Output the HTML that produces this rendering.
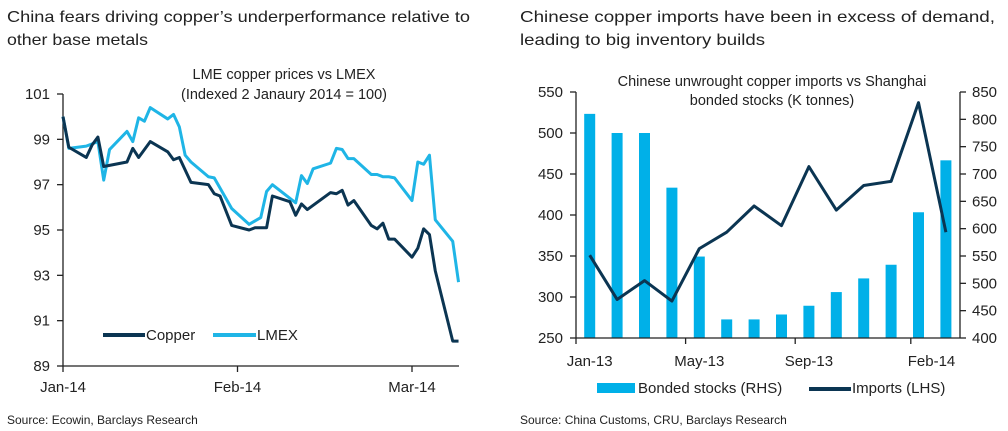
<!DOCTYPE html>
<html><head><meta charset="utf-8"><style>
html,body{margin:0;padding:0;background:#fff;}
svg{display:block;font-family:"Liberation Sans",sans-serif;}
</style></head><body>
<svg id="svg" width="1008" height="431" viewBox="0 0 1008 431" xmlns="http://www.w3.org/2000/svg">
<g fill="#222" font-size="16">
<text x="7" y="22" textLength="463" lengthAdjust="spacingAndGlyphs">China fears driving copper’s underperformance relative to</text>
<text x="7" y="45" textLength="141" lengthAdjust="spacingAndGlyphs">other base metals</text>
<text x="520" y="22" textLength="475" lengthAdjust="spacingAndGlyphs">Chinese copper imports have been in excess of demand,</text>
<text x="520" y="45" textLength="245" lengthAdjust="spacingAndGlyphs">leading to big inventory builds</text>
</g>
<g fill="#222" font-size="12">
<text x="7" y="424">Source: Ecowin, Barclays Research</text>
<text x="520" y="424">Source: China Customs, CRU, Barclays Research</text>
</g>
<g id="left"></g>
<g id="right"></g>
</svg>
<script>
// Left chart data
const copperDays=[0,1,4,5,6,7,11,12,13,15,18,19,20,22,25,26,27,29,32,33,35,36,39,40,41,42,46,47,48,49,50,53,54,55,56,57,60,61,62,63,64,67,68];
const copperVals=[100,98.65,98.2,98.75,99.1,97.8,98.0,98.6,98.2,98.9,98.45,98.1,98.2,97.1,97.0,96.6,96.5,95.2,95.0,95.1,95.1,96.5,96.25,95.65,96.15,95.9,96.65,96.6,96.75,96.1,96.3,95.2,95.05,95.3,94.6,94.6,93.8,94.2,95.05,94.8,93.2,90.1,90.1];
const lmexDays=[0,1,4,6,7,8,11,12,13,14,15,18,19,20,21,22,25,26,29,32,34,35,36,40,41,42,43,46,47,48,49,50,53,54,55,56,57,60,61,62,63,64,67,68];
const lmexVals=[100,98.6,98.7,98.9,97.2,98.55,99.35,98.9,99.95,99.8,100.4,99.9,100.1,99.55,98.3,98.0,97.35,97.3,95.95,95.25,95.55,96.7,97.0,96.2,97.4,97.05,97.7,97.95,98.6,98.55,98.15,98.15,97.45,97.45,97.35,97.35,97.3,96.3,98.0,97.9,98.3,95.45,94.5,92.7];
const leftYTicks=[89,91,93,95,97,99,101];
const leftXTickDays=[0,30,60];
const leftXTickLabels=["Jan-14","Feb-14","Mar-14"];
// Right chart data
const months=["Jan-13","Feb-13","Mar-13","Apr-13","May-13","Jun-13","Jul-13","Aug-13","Sep-13","Oct-13","Nov-13","Dec-13","Jan-14","Feb-14"];
const bondedStocks=[810,775,775,675,549,434,434,443,459,484,509,534,630,725];
const imports=[351,297,320,295,359,379,411,387,459,406,436,441,537,379];
const leftAxisTicks=[250,300,350,400,450,500,550];
const rightAxisTicks=[400,450,500,550,600,650,700,750,800,850];
const rightXTickIdx=[0,4,8,12];
const rightXTickLabels=["Jan-13","May-13","Sep-13","Feb-14"];

const NS="http://www.w3.org/2000/svg";
function mk(parent,tag,attrs){const e=document.createElementNS(NS,tag);for(const k in attrs)e.setAttribute(k,attrs[k]);parent.appendChild(e);return e;}
const DARK="#0b3552", LIGHT="#1fb5e6", AX="#222";
const FS=15;

// ---- Left chart
const L=document.getElementById('left');
const lx=d=>63+d*(174.5/30), ly=v=>366-(v-89)*(272/12);
let t=mk(L,'text',{x:284,y:79,'text-anchor':'middle','font-size':14.5,fill:'#222'});t.textContent="LME copper prices vs LMEX";

t=mk(L,'text',{x:284,y:99,'text-anchor':'middle','font-size':14.5,fill:'#222'});t.textContent="(Indexed 2 Janaury 2014 = 100)";

let a=mk(L,'line',{x1:63,y1:94,x2:63,y2:366,stroke:AX,'stroke-width':1.3});

a=mk(L,'line',{x1:63,y1:366,x2:459,y2:366,stroke:AX,'stroke-width':1.3});

leftYTicks.forEach(v=>{
  const tk=mk(L,'line',{x1:57,y1:ly(v),x2:63,y2:ly(v),stroke:AX,'stroke-width':1.3});
  
  const tl=mk(L,'text',{x:50,y:ly(v)+5,'text-anchor':'end','font-size':FS,fill:'#222'});tl.textContent=v;
  
});
leftXTickDays.forEach((d,i)=>{
  const tk=mk(L,'line',{x1:lx(d),y1:366,x2:lx(d),y2:372,stroke:AX,'stroke-width':1.3});
  
  const tl=mk(L,'text',{x:lx(d),y:392,'text-anchor':'middle','font-size':FS,fill:'#222'});tl.textContent=leftXTickLabels[i];
  
});
let p=mk(L,'polyline',{points:lmexDays.map((d,i)=>lx(d)+','+ly(lmexVals[i])).join(' '),fill:'none',stroke:LIGHT,'stroke-width':3,'stroke-linejoin':'round'});

p=mk(L,'polyline',{points:copperDays.map((d,i)=>lx(d)+','+ly(copperVals[i])).join(' '),fill:'none',stroke:DARK,'stroke-width':3,'stroke-linejoin':'round'});

let lg=mk(L,'line',{x1:103,y1:335,x2:145,y2:335,stroke:DARK,'stroke-width':4});

t=mk(L,'text',{x:146,y:340,'font-size':FS,fill:'#222'});t.textContent="Copper";

lg=mk(L,'line',{x1:213,y1:335,x2:256,y2:335,stroke:LIGHT,'stroke-width':4});

t=mk(L,'text',{x:257,y:340,'font-size':FS,fill:'#222'});t.textContent="LMEX";


// ---- Right chart
const R=document.getElementById('right');
const X0=576,X1=960,step=27.4;
const rx=i=>X0+step/2+i*step;
const yl=v=>338-(v-250)*(246/300), yr=v=>338-(v-400)*(246/450);
t=mk(R,'text',{x:772,y:86,'text-anchor':'middle','font-size':14.5,fill:'#222'});t.textContent="Chinese unwrought copper imports  vs Shanghai";

t=mk(R,'text',{x:772,y:105,'text-anchor':'middle','font-size':14.5,fill:'#222'});t.textContent="bonded stocks (K tonnes)";

bondedStocks.forEach((v,i)=>{
  const b=mk(R,'rect',{x:rx(i)-5.5,y:yr(v),width:11,height:338-yr(v),fill:'#00b0e8'});
  
});
a=mk(R,'line',{x1:X0,y1:92,x2:X0,y2:338,stroke:AX,'stroke-width':1.3});

a=mk(R,'line',{x1:X1,y1:92,x2:X1,y2:338,stroke:AX,'stroke-width':1.3});

a=mk(R,'line',{x1:X0,y1:338,x2:X1,y2:338,stroke:AX,'stroke-width':1.3});

leftAxisTicks.forEach(v=>{
  const tk=mk(R,'line',{x1:570,y1:yl(v),x2:X0,y2:yl(v),stroke:AX,'stroke-width':1.3});
  
  const tl=mk(R,'text',{x:563,y:yl(v)+5,'text-anchor':'end','font-size':FS,fill:'#222'});tl.textContent=v;
  
});
rightAxisTicks.forEach(v=>{
  const tk=mk(R,'line',{x1:X1,y1:yr(v),x2:X1+6,y2:yr(v),stroke:AX,'stroke-width':1.3});
  
  const tl=mk(R,'text',{x:972,y:yr(v)+5,'font-size':FS,fill:'#222'});tl.textContent=v;
  
});
rightXTickIdx.forEach((m,i)=>{
  const xx=X0+m*step+(m===12?6:0);
  const tk=mk(R,'line',{x1:xx,y1:338,x2:xx,y2:344,stroke:AX,'stroke-width':1.3});
  
  const tl=mk(R,'text',{x:rx(m)+(m===12?13:0),y:366,'text-anchor':'middle','font-size':FS,fill:'#222'});tl.textContent=rightXTickLabels[i];
  
});
p=mk(R,'polyline',{points:imports.map((v,i)=>rx(i)+','+yl(v)).join(' '),fill:'none',stroke:DARK,'stroke-width':3,'stroke-linejoin':'round'});

lg=mk(R,'rect',{x:597,y:383,width:38,height:10,fill:'#00b0e8'});

t=mk(R,'text',{x:638,y:393,'font-size':FS,fill:'#222'});t.textContent="Bonded stocks (RHS)";

lg=mk(R,'line',{x1:809,y1:389,x2:851,y2:389,stroke:DARK,'stroke-width':4});

t=mk(R,'text',{x:852,y:393,'font-size':FS,fill:'#222'});t.textContent="Imports (LHS)";

</script>
</body></html>
